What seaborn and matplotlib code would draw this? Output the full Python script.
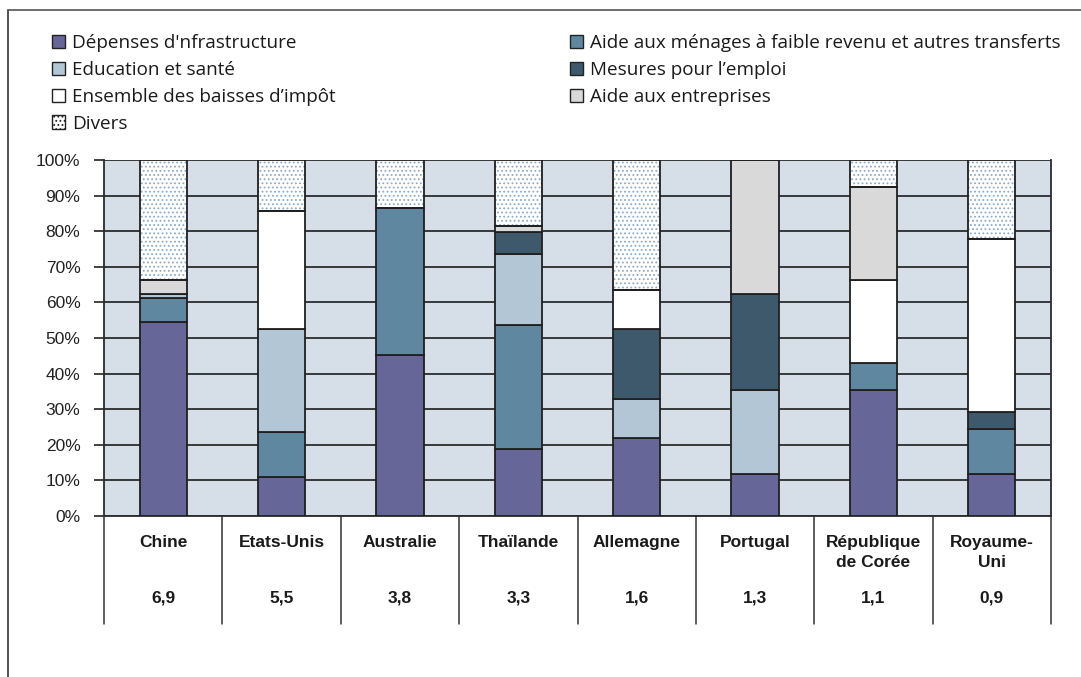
import matplotlib
matplotlib.use("Agg")
import matplotlib.pyplot as plt
import seaborn as sns
import numpy as np
import pandas as pd
from matplotlib.patches import Patch
from matplotlib.lines import Line2D

countries = ["Chine", "Etats-Unis", "Australie", "Thaïlande", "Allemagne",
             "Portugal", "République\nde Corée", "Royaume-\nUni"]
totals = ["6,9", "5,5", "3,8", "3,3", "1,6", "1,3", "1,1", "0,9"]

infrastructure = [54.4, 11.0, 45.2, 18.8, 21.9, 11.8, 35.4, 11.8]
menages = [6.9, 12.7, 41.2, 34.9, 0.0, 0.0, 7.7, 12.5]
education = [1.1, 28.8, 0.0, 20.0, 11.0, 23.6, 0.0, 0.0]
emploi = [0.0, 0.0, 0.0, 6.0, 19.6, 27.1, 0.0, 5.0]
impot = [0.0, 33.3, 0.0, 0.0, 11.0, 0.0, 23.2, 48.6]
entreprises = [3.9, 0.0, 0.0, 1.7, 0.0, 37.5, 26.2, 0.0]
divers = [33.7, 14.2, 13.6, 18.6, 36.5, 0.0, 7.5, 22.1]

series_names = ["Dépenses d'nfrastructure",
                "Aide aux ménages à faible revenu et autres transferts",
                "Education et santé",
                "Mesures pour l’emploi",
                "Ensemble des baisses d’impôt",
                "Aide aux entreprises",
                "Divers"]
series_values = [infrastructure, menages, education, emploi, impot, entreprises, divers]
colors = ["#666699", "#5F87A0", "#B3C6D6", "#3E596B", "#FFFFFF", "#D9D9D9", "#FFFFFF"]

sns.set_theme(style="white")
plt.rcParams["font.family"] = ["Liberation Sans", "DejaVu Sans"]
plt.rcParams["hatch.linewidth"] = 0.8

W, H = 1081, 677
fig = plt.figure(figsize=(W / 100, H / 100), dpi=100)
x0, x1, y0, y1 = 104, 1051, 160, 516
ax = fig.add_axes([x0 / W, 1 - y1 / H, (x1 - x0) / W, (y1 - y0) / H])
ax.set_facecolor("#D6DFE7")
ax.set_axisbelow(True)
ax.yaxis.grid(True, color="#2b2b2b", linewidth=1.3)

edge = "#1f1f1f"
bottom = np.zeros(len(countries))
for name, vals, col in zip(series_names, series_values, colors):
    df = pd.DataFrame({"pays": countries, "val": vals})
    if name == "Divers":
        sns.barplot(data=df, x="pays", y="val", bottom=bottom, ax=ax,
                    color="white", saturation=1, width=0.4,
                    edgecolor="#8AAAC8", linewidth=0, hatch="....",
                    errorbar=None, zorder=2)
        sns.barplot(data=df, x="pays", y="val", bottom=bottom, ax=ax,
                    fill=False, width=0.4, color=edge,
                    edgecolor=edge, linewidth=1.3, errorbar=None, zorder=3)
    else:
        sns.barplot(data=df, x="pays", y="val", bottom=bottom, ax=ax,
                    color=col, saturation=1, width=0.4,
                    edgecolor=edge, linewidth=1.3, errorbar=None, zorder=3)
    bottom = bottom + np.array(vals)

ax.set_ylim(0, 100)
ax.set_xlim(-0.5, len(countries) - 0.5)
ax.set_yticks(np.arange(0, 101, 10))
ax.set_yticklabels([f"{v}%" for v in range(0, 101, 10)], fontsize=12.5, color="#222222")
ax.tick_params(axis="y", which="both", left=True, length=7, width=1.2, color="#222222", pad=10)
ax.set_xticks([])
ax.set_xlabel("")
ax.set_ylabel("")
for s in ["left", "right", "bottom"]:
    ax.spines[s].set_color("#2b2b2b")
    ax.spines[s].set_linewidth(1.3)
ax.spines["top"].set_visible(False)

# table below the axis
tr = ax.get_xaxis_transform()
ybot = (y1 - 624) / (y1 - y0)
for i in range(len(countries) + 1):
    ax.add_line(Line2D([i - 0.5, i - 0.5], [0, ybot], transform=tr, color="#333333",
                       linewidth=1.1, clip_on=False))
ytop_lab = (y1 - 535) / (y1 - y0)
yval = (y1 - 598) / (y1 - y0)
for i, (c, t) in enumerate(zip(countries, totals)):
    ax.text(i, ytop_lab, c, transform=tr, ha="center", va="top", fontsize=12.5,
            fontweight="bold", linespacing=1.38, color="#1a1a1a")
    ax.text(i, yval, t, transform=tr, ha="center", va="center", fontsize=12.5,
            fontweight="bold", color="#1a1a1a")

# legend (two columns)
handles = [Patch(facecolor=c, edgecolor="#222222", linewidth=1.0,
                 hatch="...." if n == "Divers" else None)
           for n, c in zip(series_names, colors)]
left_idx = [0, 2, 4, 6]
right_idx = [1, 3, 5]
common = dict(frameon=False, handlelength=0.7, handleheight=0.7,
              handletextpad=0.35, labelspacing=0.47, borderpad=0, borderaxespad=0,
              prop={"family": ["Open Sans", "DejaVu Sans"], "size": 13.6})
lg1 = fig.legend([handles[i] for i in left_idx], [series_names[i] for i in left_idx],
                 loc="upper left", bbox_to_anchor=(52 / W, 1 - 34 / H), **common)
lg2 = fig.legend([handles[i] for i in right_idx], [series_names[i] for i in right_idx],
                 loc="upper left", bbox_to_anchor=(570 / W, 1 - 34 / H), **common)
for t in lg1.get_texts() + lg2.get_texts():
    t.set_color("#1a1a1a")

# outer frame lines (left and top)
fig.add_artist(Line2D([8 / W, 8 / W], [0, 1 - 10 / H], transform=fig.transFigure,
                      color="#333333", linewidth=1.2))
fig.add_artist(Line2D([8 / W, 1], [1 - 10 / H, 1 - 10 / H], transform=fig.transFigure,
                      color="#555555", linewidth=1.2))

fig.savefig("out.png", dpi=100, facecolor="white")
